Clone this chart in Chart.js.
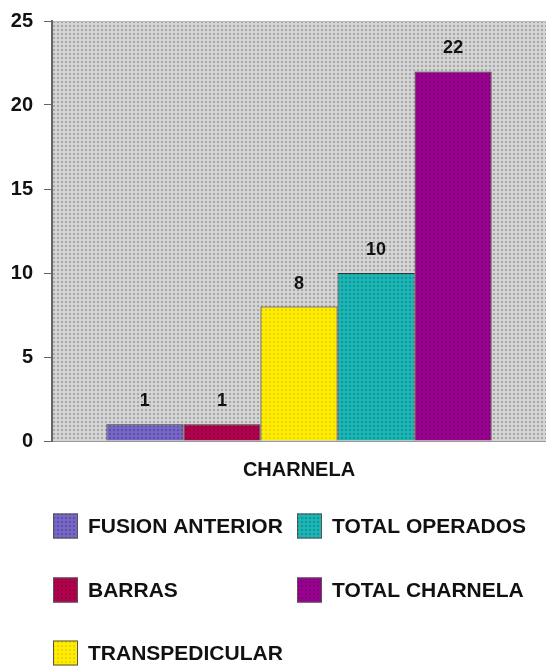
<!DOCTYPE html>
<html>
<head>
<meta charset="utf-8">
<script src="https://cdn.jsdelivr.net/npm/chart.js@4/dist/chart.umd.min.js"></script>
<style>
  html, body { margin: 0; padding: 0; background: #ffffff; }
  canvas { display: block; }
</style>
</head>
<body>
<canvas id="chart" width="546" height="670"></canvas>
<script>
// Data
const categories = ['CHARNELA'];
const seriesNames = ['FUSION ANTERIOR', 'BARRAS', 'TRANSPEDICULAR', 'TOTAL OPERADOS', 'TOTAL CHARNELA'];
const seriesValues = [1, 1, 8, 10, 22];
const seriesColors = ['#7766c4', '#b00050', '#ffec00', '#1fb3b3', '#990090'];
const yTickValues = [0, 5, 10, 15, 20, 25];

const FONT = '"Liberation Sans", Arial, Helvetica, sans-serif';

// Small dotted tile used as a fill texture
function dotPattern(base, dot, size, dotSize) {
  const c = document.createElement('canvas');
  c.width = size; c.height = size;
  const g = c.getContext('2d');
  g.fillStyle = base;
  g.fillRect(0, 0, size, size);
  g.fillStyle = dot;
  g.fillRect(1, 1, dotSize, dotSize);
  return g.createPattern(c, 'repeat');
}

function shade(hex, amt) {
  const n = parseInt(hex.slice(1), 16);
  let r = (n >> 16) & 255, g = (n >> 8) & 255, b = n & 255;
  r = Math.max(0, Math.min(255, Math.round(r + amt)));
  g = Math.max(0, Math.min(255, Math.round(g + amt)));
  b = Math.max(0, Math.min(255, Math.round(b + amt)));
  return 'rgb(' + r + ',' + g + ',' + b + ')';
}

const ctx = document.getElementById('chart').getContext('2d');
const plotFill = dotPattern('#d4d4d4', '#a8a8a8', 4, 2);
const barFills = seriesColors.map(c => dotPattern(c, shade(c, -24), 4, 2));

const datasets = seriesNames.map((name, i) => ({
  label: name,
  data: [seriesValues[i]],
  backgroundColor: barFills[i],
  borderColor: '#333333',
  borderWidth: 1,
  borderSkipped: 'bottom'
}));

// Dotted gray plot background
const plotBackground = {
  id: 'plotBackground',
  beforeDraw(chart) {
    const { ctx, chartArea: a } = chart;
    ctx.save();
    ctx.fillStyle = plotFill;
    ctx.fillRect(a.left, a.top, a.right - a.left, a.bottom - a.top);
    ctx.strokeStyle = '#bbbbbb';
    ctx.lineWidth = 1;
    ctx.beginPath();
    ctx.moveTo(a.left, a.top + 0.5);
    ctx.lineTo(a.right, a.top + 0.5);
    ctx.stroke();
    ctx.restore();
  }
};

// Value printed above each bar
const valueLabels = {
  id: 'valueLabels',
  afterDatasetsDraw(chart) {
    const ctx = chart.ctx;
    ctx.save();
    ctx.font = 'bold 18px ' + FONT;
    ctx.fillStyle = '#111111';
    ctx.textAlign = 'center';
    ctx.textBaseline = 'middle';
    chart.data.datasets.forEach((ds, i) => {
      const meta = chart.getDatasetMeta(i);
      meta.data.forEach((bar, j) => {
        ctx.fillText(String(ds.data[j]), bar.x, bar.y - 23);
      });
    });
    ctx.restore();
  }
};

// Legend laid out in columns of three rows
const columnLegend = {
  id: 'columnLegend',
  afterDraw(chart, args, opts) {
    const ctx = chart.ctx;
    ctx.save();
    ctx.font = 'bold 21px ' + FONT;
    ctx.textAlign = 'left';
    ctx.textBaseline = 'middle';
    chart.data.datasets.forEach((ds, i) => {
      const col = Math.floor(i / opts.rows);
      const row = i % opts.rows;
      const x = opts.colX[col];
      const y = opts.rowY[row];
      ctx.fillStyle = ds.backgroundColor;
      ctx.fillRect(x, y - opts.box / 2, opts.box, opts.box);
      ctx.strokeStyle = '#555555';
      ctx.lineWidth = 1;
      ctx.strokeRect(x + 0.5, y - opts.box / 2 + 0.5, opts.box - 1, opts.box - 1);
      ctx.fillStyle = '#111111';
      ctx.fillText(ds.label, x + opts.box + 10, y + 1);
    });
    ctx.restore();
  }
};

new Chart(ctx, {
  type: 'bar',
  data: { labels: categories, datasets: datasets },
  plugins: [plotBackground, valueLabels, columnLegend],
  options: {
    responsive: false,
    animation: false,
    layout: { padding: { top: 21, right: 0, left: 0, bottom: 0 } },
    datasets: {
      bar: { categoryPercentage: 0.78, barPercentage: 1.0 }
    },
    plugins: {
      legend: { display: false },
      tooltip: { enabled: false },
      columnLegend: { rows: 3, colX: [53, 297], rowY: [526, 590, 653], box: 25 }
    },
    scales: {
      x: {
        ticks: {
          color: '#111111',
          font: { family: FONT, size: 20, weight: 'bold' },
          padding: 17
        },
        grid: { display: false, drawTicks: false },
        border: { display: true, color: '#999999', width: 1 },
        afterFit(scale) { scale.height = 229; }
      },
      y: {
        min: 0,
        max: 25,
        afterBuildTicks(scale) { scale.ticks = yTickValues.map(v => ({ value: v })); },
        ticks: {
          color: '#111111',
          font: { family: FONT, size: 20, weight: 'bold', lineHeight: 1 },
          padding: 11
        },
        grid: { drawOnChartArea: false, drawTicks: true, tickLength: 8, color: '#666666' },
        border: { display: true, color: '#666666', width: 2 },
        afterFit(scale) {
          scale.width = 52;
          scale.paddingTop = 0;
          scale.paddingBottom = 0;
        }
      }
    }
  }
});
</script>
</body>
</html>
